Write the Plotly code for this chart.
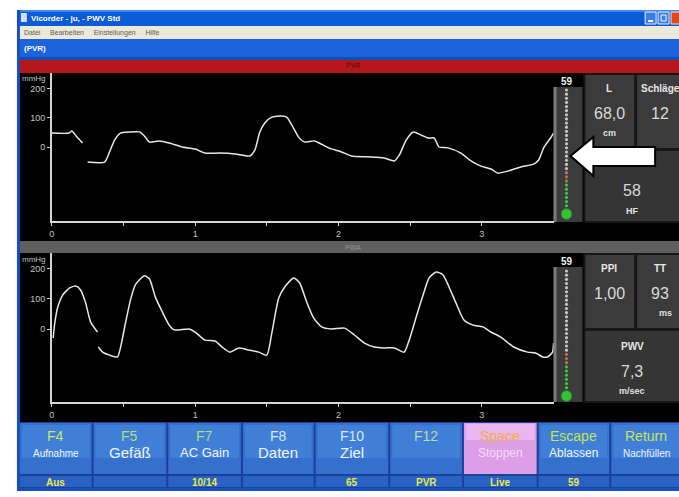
import plotly.graph_objects as go

W, H = 679, 497
FONT = "Liberation Sans, Arial, sans-serif"

# ---------------- data ----------------
# PVR (cuff volume) waveform: time in s, pressure in mmHg; None breaks the trace
pvr_t = [0.0, 0.12, 0.14, 0.17, 0.215, None,
         0.25, 0.368, 0.403, 0.438, 0.479, 0.542, 0.611, 0.646, 0.681, 0.75,
         0.819, 0.91, 1.0, 1.069, 1.167, 1.278, 1.382, 1.417, 1.451, 1.486,
         1.535, 1.604, 1.639, 1.674, 1.722, 1.764, 1.833, 1.931, 2.021, 2.09,
         2.208, 2.319, 2.389, 2.424, 2.472, 2.521, 2.576, 2.625, 2.667, 2.701,
         2.764, 2.854, 2.924, 2.993, 3.063, 3.111, 3.181, 3.271, 3.361, 3.396,
         3.431, 3.479, 3.5]
pvr_p = [48, 48, 55, 38, 14, None,
         -52, -52, -17, 24, 48, 52, 52, 38, 17, 21,
         14, 0, -7, -21, -21, -24, -31, -10, 52, 83,
         103, 107, 103, 76, 34, 17, 21, -3, -17, -31,
         -34, -38, -48, -28, 24, 52, 41, 31, 31, 0,
         -3, -21, -48, -66, -76, -90, -83, -69, -59, -45,
         -3, 31, 48]

# PWA (pulse wave) waveform
pwa_t = [0.01, 0.021, 0.042, 0.076, 0.125, 0.167, 0.201, 0.236, 0.271, 0.319, None,
         0.325, 0.354, 0.403, 0.458, 0.486, 0.514, 0.549, 0.583, 0.646, 0.681,
         0.722, 0.771, 0.819, 0.854, 0.958, 1.0, 1.069, 1.139, 1.188, 1.243,
         1.306, 1.375, 1.444, 1.5, 1.535, 1.583, 1.625, 1.688, 1.729, 1.778,
         1.826, 1.882, 1.951, 2.042, 2.111, 2.181, 2.25, 2.319, 2.389, 2.458,
         2.493, 2.542, 2.59, 2.632, 2.681, 2.729, 2.771, 2.819, 2.875, 2.938,
         3.007, 3.063, 3.132, 3.222, 3.319, 3.375, 3.424, 3.458, 3.493, 3.5]
pwa_p = [-30, 20, 73, 113, 137, 143, 130, 87, 23, -10, None,
         -60, -77, -87, -93, -47, 20, 97, 147, 177, 167,
         107, 57, 13, -3, 0, -10, -37, -40, -60, -77,
         -63, -70, -77, -87, -13, 103, 140, 170, 153, 90,
         37, 7, 0, 3, -20, -47, -60, -63, -63, -77,
         -37, 40, 113, 170, 190, 180, 140, 87, 30, 13,
         7, -10, -27, -60, -77, -80, -93, -93, -77, -47]

time_ticks = [0, 0.5, 1, 1.5, 2, 2.5, 3]
time_labels = ["0", "", "1", "", "2", "", "3"]
pressure_ticks = [0, 100, 200]
pressure_labels = ["0", "100", "200"]
pressure_unit = "mmHg"

cuff_pressure = 59
cuff_target = 65
gauge_levels = list(range(8, 241, 8))

pvr_headers = ["L", "Schläge", ""]
pvr_values = ["68,0", "12", "58"]
pvr_units = ["cm", "", "HF"]

pwa_headers = ["PPI", "TT", "PWV"]
pwa_values = ["1,00", "93", "7,3"]
pwa_units = ["", "ms", "m/sec"]

key_names = ["F4", "F5", "F7", "F8", "F10", "F12", "Space", "Escape", "Return"]
key_labels = ["Aufnahme", "Gefäß", "AC Gain", "Daten", "Ziel", "", "Stoppen", "Ablassen", "Nachfüllen"]
key_values = ["Aus", "", "10/14", "", "65", "PVR", "Live", "59", ""]

# ---------------- helpers ----------------
def X(px):
    return px / W


def Y(py):
    return 1 - py / H


shapes = []
annotations = []


def rect(x0, y0, x1, y1, fill, line=None, lw=0, layer="below"):
    shapes.append(dict(type="rect", xref="paper", yref="paper",
                       x0=X(x0), x1=X(x1), y0=Y(y1), y1=Y(y0),
                       fillcolor=fill, line=dict(color=line or fill, width=lw),
                       layer=layer))


def text(px, py, s, size, color, bold=False, anchor="center"):
    annotations.append(dict(xref="paper", yref="paper", x=X(px), y=Y(py),
                            text=f"<b>{s}</b>" if bold else s, showarrow=False,
                            xanchor=anchor, yanchor="middle", borderpad=0,
                            font=dict(size=size, color=color, family=FONT)))


# ---------------- window chrome ----------------
rect(14, 10, 679, 491, "#1450c4")                       # window frame
rect(17, 10, 679, 26, "#0b5ad8")                        # title bar
rect(17, 10, 679, 12, "#3f86ee")
rect(18, 13, 24, 22, "#d8dde8")                         # app icon
text(27, 18, "Vicorder - ju, - PWV Std", 8, "white", bold=True, anchor="left")
rect(645, 12, 656, 24, "#3a7ee8", "#e8f0ff", 1)
rect(658, 12, 669, 24, "#3a7ee8", "#e8f0ff", 1)
rect(671, 12, 682, 24, "#e0461c", "#ffe0d0", 1)
shapes.append(dict(type="line", xref="paper", yref="paper", x0=X(648), x1=X(653),
                   y0=Y(21), y1=Y(21), line=dict(color="white", width=2)))
rect(661, 15, 666, 21, "rgba(0,0,0,0)", "white", 1)

rect(17, 26, 679, 39, "#ece9d8")                        # menu bar
text(20, 33, "Datei     Bearbeiten     Einstellungen     Hilfe", 7, "#5a5a5a", anchor="left")

rect(17, 39, 679, 60, "#1d63dc")                        # tab strip
rect(17, 57, 679, 60, "#124cb8")
text(20, 49, "(PVR)", 8, "white", bold=True, anchor="left")

rect(17, 60, 679, 73, "#b5171b")                        # PVR header
text(352, 66, "PVR", 7, "#6e1010", bold=True)
rect(17, 73, 679, 241, "#000000")
rect(17, 241, 679, 253, "#5f5f5f")                      # PWA header
text(352, 247, "PWA", 7, "#858585", bold=True)
rect(17, 253, 679, 422, "#000000")

# pressure unit above each pressure axis
text(31, 78, pressure_unit, 8, "#c4c4c4")
text(31, 259, pressure_unit, 8, "#c4c4c4")

# ---------------- cuff gauges ----------------
for top, bottom in [(73, 222), (253, 402)]:
    rect(553, top, 581, top + 14, "#000000")
    rect(553, top + 14, 582, bottom, "#3c3c3c")
    rect(553, top + 14, 556, bottom, "#7a7a7a")
    text(567, top + 8, str(cuff_pressure), 10, "#f0f0f0", bold=True)

# ---------------- measurement panels ----------------
def panel(top, headers, values, units):
    rect(583, top, 679, top + 150, "#161616")
    rect(585, top + 2, 634, top + 75, "#3b3b3b")
    rect(637, top + 2, 681, top + 75, "#3b3b3b")
    rect(585, top + 78, 681, top + 148, "#353535")
    cols = [(609, top), (660, top), (632, top + 78)]
    for (cx, cy), h, v, u in zip(cols, headers, values, units):
        text(cx, cy + 15, h, 10, "#e6e6e6", bold=True)
        text(cx, cy + 40, v, 16, "#d8d8d8")
        text(cx + (5 if cx == 660 else 0), cy + 60, u, 9, "#e0e0e0", bold=True)


panel(73, pvr_headers, pvr_values, pvr_units)
panel(253, pwa_headers, pwa_values, pwa_units)

# ---------------- function key bar ----------------
rect(17, 422, 679, 488, "#1c3f98")
key_left = [17, 91, 166, 241, 314, 389, 463, 538, 611]
key_right = [89, 164, 239, 312, 387, 461, 536, 609, 681]
name_colors = ["#cfe35e", "#a9df78", "#a9df78", "#dce8f4", "#dce8f4",
               "#b4dfa0", "#f2b040", "#c6e354", "#c6e354"]
label_sizes = [10, 15, 13, 15, 15, 12, 12, 12, 10]
for i in range(len(key_names)):
    l, r = key_left[i], key_right[i]
    c = (l + r) / 2
    if key_names[i] == "Space":
        rect(l, 423, r, 474, "#dc9ee6")
        rect(l + 2, 424, r - 2, 440, "#e9b6ef")
        label_color = "#f6dcf8"
    else:
        rect(l, 423, r, 474, "#3470cc")
        rect(l + 2, 425, r - 2, 458, "#3f7fd8")
        label_color = "#f2f6ff"
    rect(l, 476, r, 487, "#2a62c4")
    text(c, 436, key_names[i], 14, name_colors[i])
    if key_labels[i]:
        text(c, 453 if label_sizes[i] <= 12 else 452, key_labels[i], label_sizes[i], label_color)
    if key_values[i]:
        text(c, 482, key_values[i], 10, "#e6ea4a", bold=True)

# ---------------- pointer arrow ----------------
arrow = [(570, 156), (593, 137), (593, 147), (655, 147), (655, 166),
         (593, 166), (593, 176)]
path = "M " + " L ".join(f"{X(a):.5f},{Y(b):.5f}" for a, b in arrow) + " Z"
shapes.append(dict(type="path", xref="paper", yref="paper", path=path,
                   fillcolor="white", line=dict(color="black", width=2), layer="above"))

# ---------------- traces ----------------
fig = go.Figure()
wave_line = dict(color="#e8e8e8", width=1.5, shape="spline", smoothing=0.6)
fig.add_trace(go.Scatter(x=pvr_t, y=pvr_p, mode="lines", line=wave_line,
                         xaxis="x", yaxis="y", hoverinfo="skip"))
fig.add_trace(go.Scatter(x=pwa_t, y=pwa_p, mode="lines", line=wave_line,
                         xaxis="x2", yaxis="y2", hoverinfo="skip"))


def gauge_color(level):
    if level <= cuff_pressure:
        return "#3cc83c"
    if level <= cuff_target + 15:
        return "#c86a5a"
    return "#c4c4c4"


gauge_colors = [gauge_color(v) for v in gauge_levels]
for xa, ya in [("x3", "y3"), ("x4", "y4")]:
    fig.add_trace(go.Scatter(x=[0.5] * len(gauge_levels), y=gauge_levels, mode="markers",
                             marker=dict(color=gauge_colors, size=3.2),
                             xaxis=xa, yaxis=ya, hoverinfo="skip"))
    fig.add_trace(go.Scatter(x=[0.5], y=[0], mode="markers",
                             marker=dict(color="#35c035", size=11, line=dict(color="#1e7a1e", width=1)),
                             xaxis=xa, yaxis=ya, hoverinfo="skip"))

axis_style = dict(showgrid=False, zeroline=False, showline=True, linecolor="#d6d6d6",
                  linewidth=1.5, ticks="outside", ticklen=3, tickcolor="#d6d6d6",
                  tickfont=dict(size=9, color="#c4c4c4", family=FONT), fixedrange=True)
hidden = dict(visible=False, fixedrange=True)

fig.update_layout(
    width=W, height=H, autosize=False,
    margin=dict(l=0, r=0, t=0, b=0, pad=0),
    paper_bgcolor="white", plot_bgcolor="rgba(0,0,0,0)",
    showlegend=False,
    xaxis=dict(domain=[X(49), X(553)], range=[0, 3.5], anchor="y",
               tickvals=time_ticks, ticktext=time_labels, **axis_style),
    yaxis=dict(domain=[Y(221), Y(73)], range=[-255, 255], anchor="x",
               tickvals=pressure_ticks, ticktext=pressure_labels, **axis_style),
    xaxis2=dict(domain=[X(49), X(553)], range=[0, 3.5], anchor="y2",
                tickvals=time_ticks, ticktext=time_labels, **axis_style),
    yaxis2=dict(domain=[Y(402), Y(253)], range=[-243, 253], anchor="x2",
                tickvals=pressure_ticks, ticktext=pressure_labels, **axis_style),
    xaxis3=dict(domain=[X(560), X(572)], range=[0, 1], anchor="y3", **hidden),
    yaxis3=dict(domain=[Y(222), Y(88)], range=[-15.5, 243.9], anchor="x3", **hidden),
    xaxis4=dict(domain=[X(560), X(572)], range=[0, 1], anchor="y4", **hidden),
    yaxis4=dict(domain=[Y(402), Y(267)], range=[-11.5, 247.7], anchor="x4", **hidden),
    shapes=shapes,
    annotations=annotations,
)

fig.write_html("out.html")
